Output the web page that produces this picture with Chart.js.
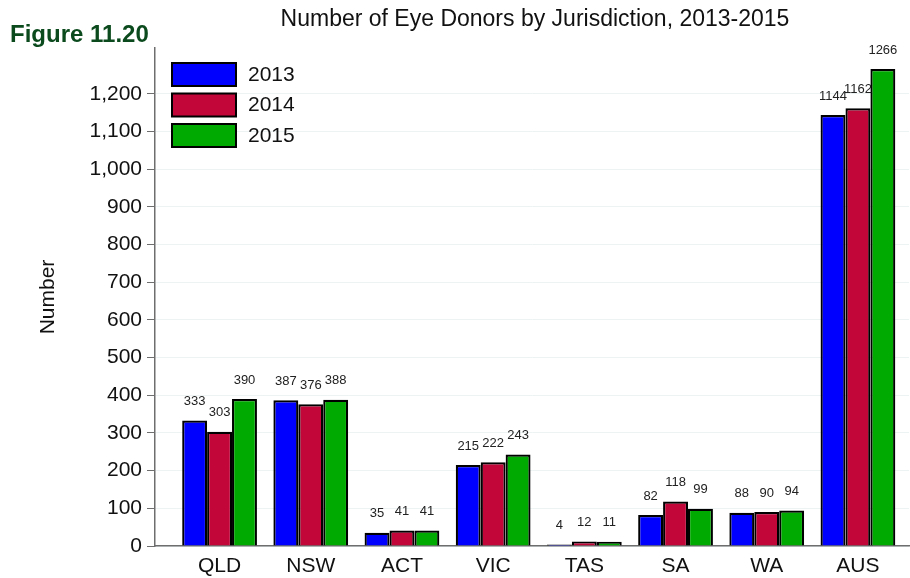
<!DOCTYPE html>
<html>
<head>
<meta charset="utf-8">
<script src="https://cdn.jsdelivr.net/npm/chart.js@4/dist/chart.umd.min.js"></script>
<style>
  body { margin: 0; background: #fff; }
  canvas { display: block; }
</style>
</head>
<body>
<canvas id="chart" width="910" height="578"></canvas>
<script>
// jurisdictions and yearly counts
const categories = ["QLD", "NSW", "ACT", "VIC", "TAS", "SA", "WA", "AUS"];
const years = ["2013", "2014", "2015"];
const donors2013 = [333, 387, 35, 215, 4, 82, 88, 1144];
const donors2014 = [303, 376, 41, 222, 12, 118, 90, 1162];
const donors2015 = [390, 388, 41, 243, 11, 99, 94, 1266];
const yTicks = [0, 100, 200, 300, 400, 500, 600, 700, 800, 900, 1000, 1100, 1200];

const FONT = '"Liberation Sans", Arial, Helvetica, sans-serif';
const colors = ["#0000ff", "#c2063a", "#00aa00"];

function toPoints(values) {
    return values.map((v, i) => ({ x: i, y: v }));
}

// title, figure label, legend and value labels
const decorations = {
    id: "decorations",
    afterDatasetsDraw(chart) {
        const ctx = chart.ctx;
        const area = chart.chartArea;
        ctx.save();

        // value labels above each bar
        ctx.font = "13px " + FONT;
        ctx.fillStyle = "#222";
        ctx.textAlign = "center";
        ctx.textBaseline = "middle";
        chart.data.datasets.forEach((ds, di) => {
            chart.getDatasetMeta(di).data.forEach((bar, i) => {
                ctx.fillText(String(ds.data[i].y), bar.x, bar.y - 19);
            });
        });

        // chart title, centred over the plot
        ctx.font = "23px " + FONT;
        ctx.fillStyle = "#111";
        ctx.fillText("Number of Eye Donors by Jurisdiction, 2013-2015", (area.left + area.right) / 2 + 3, 20);

        // figure label
        ctx.font = "bold 24px " + FONT;
        ctx.fillStyle = "#0b4a1d";
        ctx.textAlign = "left";
        ctx.fillText("Figure 11.20", 10, 35);

        // legend
        ctx.font = "21px " + FONT;
        chart.data.datasets.forEach((ds, di) => {
            const y = 63 + di * 30.5;
            ctx.fillStyle = ds.backgroundColor;
            ctx.fillRect(172, y, 64, 23);
            ctx.lineWidth = 2;
            ctx.strokeStyle = "#000";
            ctx.strokeRect(172, y, 64, 23);
            ctx.fillStyle = "#111";
            ctx.fillText(ds.label, 248, y + 12);
        });
        ctx.restore();
    }
};

new Chart(document.getElementById("chart").getContext("2d"), {
    type: "bar",
    data: {
        datasets: [
            { label: years[0], data: toPoints(donors2013), backgroundColor: colors[0] },
            { label: years[1], data: toPoints(donors2014), backgroundColor: colors[1] },
            { label: years[2], data: toPoints(donors2015), backgroundColor: colors[2] }
        ].map(ds => Object.assign(ds, { borderColor: "#000", borderWidth: 2.2, borderSkipped: "bottom" }))
    },
    options: {
        responsive: false,
        animation: false,
        layout: { padding: { top: 48, right: 1, left: 0, bottom: 0 } },
        datasets: { bar: { categoryPercentage: 0.82, barPercentage: 1 } },
        plugins: {
            legend: { display: false },
            title: { display: false },
            tooltip: { enabled: false }
        },
        scales: {
            x: {
                type: "linear",
                offset: false,
                min: -0.708,
                max: 7.56,
                afterBuildTicks: scale => { scale.ticks = categories.map((c, i) => ({ value: i })); },
                afterFit: scale => { scale.height = 32; },
                ticks: {
                    callback: v => categories[v],
                    font: { family: FONT, size: 21 },
                    color: "#111",
                    padding: 8,
                    maxRotation: 0,
                    autoSkip: false
                },
                grid: { display: false, drawTicks: false },
                border: { color: "#6e6e6e", width: 1.5 }
            },
            y: {
                min: 0,
                max: 1322,
                afterBuildTicks: scale => { scale.ticks = yTicks.map(v => ({ value: v })); },
                afterFit: scale => { scale.width = 155; },
                ticks: {
                    callback: v => v.toLocaleString("en-US"),
                    font: { family: FONT, size: 21 },
                    color: "#111",
                    padding: 5
                },
                grid: { color: "#edf2f2", tickColor: "#6e6e6e", tickLength: 8, lineWidth: 1 },
                border: { color: "#6e6e6e", width: 1.5 },
                title: {
                    display: true,
                    text: "Number",
                    font: { family: FONT, size: 21 },
                    color: "#111",
                    padding: { top: 36, bottom: 0 }
                }
            }
        }
    },
    plugins: [decorations]
});
</script>
</body>
</html>
